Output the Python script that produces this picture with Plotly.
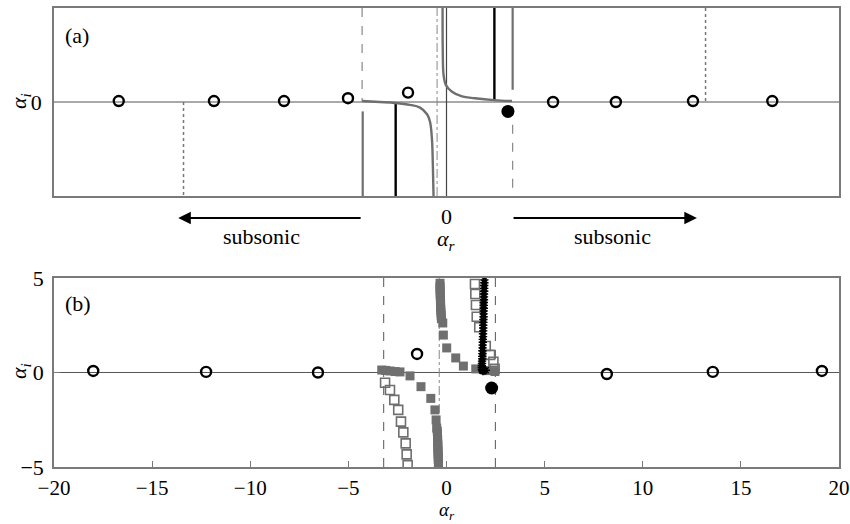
import plotly.graph_objects as go

# ---------------- panel (a) : schematic ----------------
a_open_x = [-16.7, -11.85, -8.28, -5.02, -1.96, 5.43, 8.63, 12.56, 16.6]
a_open_y = [0.01, 0.01, 0.01, 0.04, 0.10, 0.0, 0.0, 0.01, 0.01]
a_fill_x = [3.13]
a_fill_y = [-0.10]

a_left_curve_x = [-4.30, -3.39, -2.62, -1.86, -1.35, -0.99, -0.84, -0.74, -0.69, -0.66]
a_left_curve_y = [0.01, 0.0, -0.01, -0.03, -0.06, -0.13, -0.21, -0.40, -0.72, -1.0]
a_right_curve_x = [-0.20, -0.19, -0.15, -0.03, 0.28, 0.79, 1.45, 2.42, 3.34]
a_right_curve_y = [1.0, 0.55, 0.29, 0.18, 0.11, 0.06, 0.04, 0.02, 0.01]

a_black_x = [-2.59, 2.44]
a_black_y0 = [-0.01, 0.02]
a_black_y1 = [-1.0, 1.0]
a_gray_x = [-4.27, 3.37]
a_gray_y0 = [-0.10, 1.0]
a_gray_y1 = [-1.0, 0.13]
a_dash_x = [-4.30, 3.37]
a_dash_y0 = [1.0, -0.05]
a_dash_y1 = [0.0, -1.0]
a_dot_x = [-13.4, 13.2]
a_dot_y0 = [0.0, 1.0]
a_dot_y1 = [-1.0, 0.0]
a_dashdot_x = -0.48
a_zero_x = 0.0
a_arrow_left = (-4.3, -13.67)
a_arrow_right = (3.34, 12.76)
a_label_x = [-9.45, 8.45]

# ---------------- panel (b) : computed spectrum ----------------
b_open_x = [-18.0, -12.25, -6.55, -1.5, 8.17, 13.57, 19.13]
b_open_y = [0.08, 0.03, 0.0, 0.98, -0.08, 0.03, 0.08]
b_fill_x = [2.3]
b_fill_y = [-0.82]

b_sqf_x = [-0.33, -0.33, -0.33, -0.32, -0.32, -0.31, -0.31, -0.30, -0.30, -0.29, -0.28, -0.27, -0.26,
           -0.19, -0.16, 0.01, 0.47, 0.86, 1.49, 2.05, 2.47,
           -3.30, -3.10, -2.88, -2.62, -2.37, -1.86, -1.30, -0.80, -0.59, -0.53, -0.50,
           -0.47, -0.46, -0.46, -0.45, -0.45, -0.44, -0.44, -0.43, -0.43, -0.42, -0.42, -0.41, -0.41]
b_sqf_y = [4.72, 4.55, 4.40, 4.25, 4.10, 3.95, 3.80, 3.62, 3.45, 3.30, 3.15, 3.00, 2.85,
           2.62, 1.98, 1.30, 0.77, 0.34, 0.19, 0.10, 0.05,
           0.13, 0.11, 0.08, 0.05, 0.03, -0.18, -0.75, -1.37, -1.98, -2.51, -2.94,
           -3.10, -3.25, -3.40, -3.55, -3.70, -3.85, -4.00, -4.15, -4.30, -4.45, -4.60, -4.75, -4.88]

b_sqo_x = [1.45, 1.47, 1.50, 1.54, 1.67, 2.00, 2.22, 2.39, 2.45,
           -3.13, -2.88, -2.66, -2.46, -2.32, -2.20, -2.08, -2.03, -1.98]
b_sqo_y = [4.68, 4.15, 3.57, 2.95, 2.39, 1.40, 0.93, 0.57, 0.20,
           -0.54, -0.93, -1.45, -1.98, -2.60, -3.17, -3.75, -4.33, -4.90]

b_star_x = [1.93, 1.93, 1.92, 1.92, 1.92, 1.91, 1.91, 1.91, 1.90, 1.90, 1.90, 1.89, 1.89, 1.89,
            1.88, 1.88, 1.87, 1.87, 1.87, 1.86, 1.86, 1.85, 1.85, 1.84, 1.84, 1.83, 1.83, 1.82,
            1.82, 1.81, 1.81, 1.80, 1.80, 1.80, 1.82, 1.86, 1.92, 2.00]
b_star_y = [4.90, 4.75, 4.60, 4.45, 4.30, 4.15, 4.00, 3.85, 3.70, 3.55, 3.40, 3.25, 3.10, 2.95,
            2.80, 2.65, 2.50, 2.35, 2.20, 2.05, 1.90, 1.75, 1.60, 1.45, 1.30, 1.15, 1.00, 0.85,
            0.72, 0.60, 0.48, 0.37, 0.26, 0.16, 0.10, 0.08, 0.10, 0.12]

b_dash_x = [-3.2, 2.49]
b_dashdot_x = -0.37
b_xticks = [-20, -15, -10, -5, 0, 5, 10, 15, 20]
b_yticks = [-5, 0, 5]

GRAY = "#6f6f6f"
FRAME = "#7a7a7a"
FONT = "Liberation Serif, DejaVu Serif, serif"

fig = go.Figure()


def seg(x, y0, y1, color, width, dash, xa, ya):
    fig.add_trace(go.Scatter(x=[x, x], y=[y0, y1], mode="lines",
                             line=dict(color=color, width=width, dash=dash),
                             xaxis=xa, yaxis=ya, showlegend=False, hoverinfo="skip"))


# ---- panel (a) traces ----
fig.add_trace(go.Scatter(x=[-20, 20], y=[0, 0], mode="lines", line=dict(color="#555", width=1),
                         xaxis="x", yaxis="y", showlegend=False))
seg(a_zero_x, -1, 1, "#444", 1.2, "solid", "x", "y")
seg(a_dashdot_x, -1, 1, "#888", 1, "dashdot", "x", "y")
for i in range(2):
    seg(a_dash_x[i], a_dash_y0[i], a_dash_y1[i], "#888", 1.2, "dash", "x", "y")
    seg(a_dot_x[i], a_dot_y0[i], a_dot_y1[i], "#777", 1.5, "dot", "x", "y")
    seg(a_gray_x[i], a_gray_y0[i], a_gray_y1[i], GRAY, 2.2, "solid", "x", "y")
    seg(a_black_x[i], a_black_y0[i], a_black_y1[i], "black", 2.4, "solid", "x", "y")
fig.add_trace(go.Scatter(x=a_left_curve_x, y=a_left_curve_y, mode="lines", line=dict(color=GRAY, width=2.4, shape="spline"),
                         xaxis="x", yaxis="y", showlegend=False))
fig.add_trace(go.Scatter(x=a_right_curve_x, y=a_right_curve_y, mode="lines", line=dict(color=GRAY, width=2.4, shape="spline"),
                         xaxis="x", yaxis="y", showlegend=False))
fig.add_trace(go.Scatter(x=a_open_x, y=a_open_y, mode="markers",
                         marker=dict(symbol="circle-open", size=10, color="black", line=dict(width=2.4)),
                         xaxis="x", yaxis="y", showlegend=False))
fig.add_trace(go.Scatter(x=a_fill_x, y=a_fill_y, mode="markers",
                         marker=dict(symbol="circle", size=13, color="black"),
                         xaxis="x", yaxis="y", showlegend=False))

# ---- panel (b) traces ----
fig.add_trace(go.Scatter(x=[-20, 20], y=[0, 0], mode="lines", line=dict(color="#555", width=1),
                         xaxis="x2", yaxis="y2", showlegend=False))
for xv in b_dash_x:
    seg(xv, -5, 5, "#555", 1, "dash", "x2", "y2")
seg(b_dashdot_x, -5, 5, "#888", 1, "dashdot", "x2", "y2")
fig.add_trace(go.Scatter(x=b_sqo_x, y=b_sqo_y, mode="markers",
                         marker=dict(symbol="square-open", size=9, color=GRAY, line=dict(width=1.6)),
                         xaxis="x2", yaxis="y2", showlegend=False))
fig.add_trace(go.Scatter(x=b_sqf_x, y=b_sqf_y, mode="markers",
                         marker=dict(symbol="square", size=9, color=GRAY),
                         xaxis="x2", yaxis="y2", showlegend=False))
fig.add_trace(go.Scatter(x=b_star_x, y=b_star_y, mode="markers",
                         marker=dict(symbol="asterisk-open", size=7, color="black", line=dict(width=1.4, color="black")),
                         xaxis="x2", yaxis="y2", showlegend=False))
fig.add_trace(go.Scatter(x=b_open_x, y=b_open_y, mode="markers",
                         marker=dict(symbol="circle-open", size=10, color="black", line=dict(width=2.4)),
                         xaxis="x2", yaxis="y2", showlegend=False))
fig.add_trace(go.Scatter(x=b_fill_x, y=b_fill_y, mode="markers",
                         marker=dict(symbol="circle", size=13, color="black"),
                         xaxis="x2", yaxis="y2", showlegend=False))

axis_common = dict(showgrid=False, zeroline=False, showline=True, mirror=True,
                   linecolor=FRAME, linewidth=1.5, automargin=False)


def minus(v):
    return ("\u2212" + str(-v)) if v < 0 else str(v)


tick_font = dict(family=FONT, size=22, color="black")
fig.update_layout(
    width=850, height=524,
    margin=dict(l=54, r=11, t=8, b=57, autoexpand=False),
    paper_bgcolor="white", plot_bgcolor="white",
    font=dict(family=FONT, color="black"),
    xaxis=dict(domain=[0, 1], range=[-20, 20], anchor="y", tickvals=[0], ticktext=["0"],
               ticks="", tickfont=tick_font, **axis_common),
    yaxis=dict(domain=[0.5904, 1], range=[-1, 1], anchor="x", tickvals=[0], ticks="",
               ticklabelstandoff=6, tickfont=tick_font, **axis_common),
    xaxis2=dict(domain=[0, 1], range=[-20, 20], anchor="y2", tickvals=b_xticks,
                ticktext=[minus(v) for v in b_xticks], ticklabelstandoff=1,
                tickfont=dict(family=FONT, size=21, color="black"),
                ticks="inside", ticklen=6, tickcolor=FRAME, **axis_common),
    yaxis2=dict(domain=[0, 0.4118], range=[-5, 5], anchor="x2", tickvals=b_yticks,
                ticktext=[minus(v) for v in b_yticks], ticklabelstandoff=4,
                tickfont=tick_font, ticks="inside", ticklen=6, tickcolor=FRAME, **axis_common),
)

ann = []
tfont = dict(family=FONT, size=22, color="black")
# panel labels
ann.append(dict(text="(a)", x=(63 - 54) / 785, y=(467 - 35) / 459, xref="paper", yref="paper",
                xanchor="left", yanchor="middle", showarrow=False, font=dict(family=FONT, size=22, color="black")))
ann.append(dict(text="(b)", x=(63 - 54) / 785, y=(467 - 303) / 459, xref="paper", yref="paper",
                xanchor="left", yanchor="middle", showarrow=False, font=dict(family=FONT, size=22, color="black")))
# axis titles
ann.append(dict(text="<i>α<sub>r</sub></i>", x=0, y=(467 - 240) / 459, xref="x", yref="paper",
                xanchor="center", yanchor="middle", showarrow=False, font=tfont))
ann.append(dict(text="<i>α<sub>r</sub></i>", x=0, y=(467 - 511) / 459, xref="x2", yref="paper",
                xanchor="center", yanchor="middle", showarrow=False, font=dict(family=FONT, size=19, color="black")))
ann.append(dict(text="<i>α<sub>i</sub></i>", x=(20 - 54) / 785, y=(467 - 101) / 459, xref="paper", yref="paper",
                xanchor="center", yanchor="middle", textangle=-90, showarrow=False, font=tfont))
ann.append(dict(text="<i>α<sub>i</sub></i>", x=(20 - 54) / 785, y=(467 - 371) / 459, xref="paper", yref="paper",
                xanchor="center", yanchor="middle", textangle=-90, showarrow=False, font=tfont))
# arrows
for tail, head in [a_arrow_left, a_arrow_right]:
    ann.append(dict(x=head, y=(467 - 218) / 459, ax=tail, ay=0, xref="x", yref="paper", axref="x", ayref="pixel",
                    text="", showarrow=True, arrowhead=2, arrowsize=1.4, arrowwidth=1.8, arrowcolor="black"))
for lx in a_label_x:
    ann.append(dict(text="subsonic", x=lx, y=(467 - 236) / 459, xref="x", yref="paper",
                    xanchor="center", yanchor="middle", showarrow=False, font=tfont))
fig.update_layout(annotations=ann)

fig.write_html("out.html", config={"displayModeBar": False},
               post_script="document.body.style.margin='0px';document.body.style.overflow='hidden';")
